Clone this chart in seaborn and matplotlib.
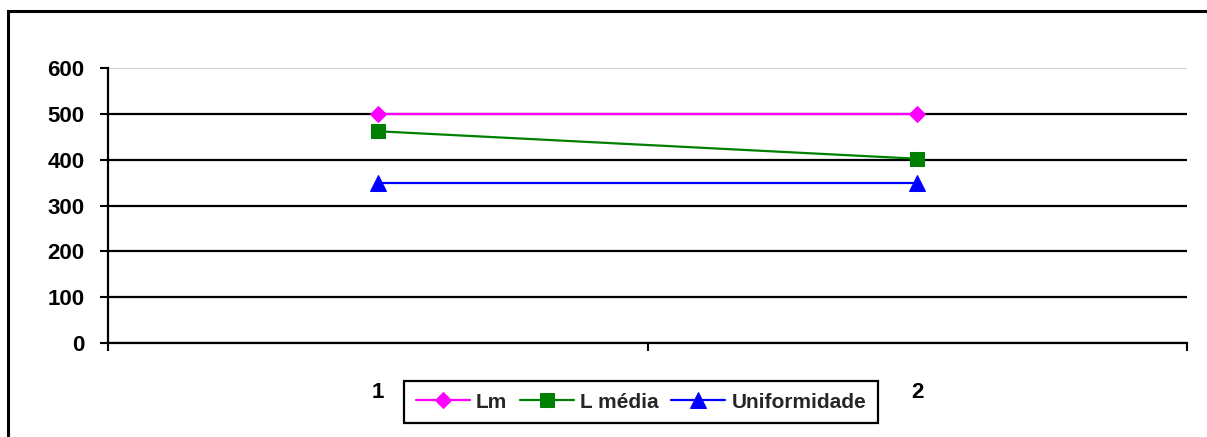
import matplotlib
matplotlib.use("Agg")
import matplotlib.pyplot as plt
import seaborn as sns
import pandas as pd
from matplotlib.patches import Rectangle

# Values per measurement point
categories = [1, 2]
category_labels = ["1", "2"]
lm = [500, 500]
l_media = [462, 402]
uniformidade = [350, 350]
y_ticks = [0, 100, 200, 300, 400, 500, 600]

sns.set_theme(style="white")
plt.rcParams["font.family"] = ["Liberation Sans", "DejaVu Sans"]
plt.rcParams["font.weight"] = "bold"

W, H = 1207, 437
fig = plt.figure(figsize=(W / 100, H / 100), dpi=100)
fig.patch.set_facecolor("white")

# Chart-area frame (runs off the right and bottom edges)
fig.add_artist(Rectangle((8 / W, -0.1), 1.2, (H - 11) / H + 0.1,
                         transform=fig.transFigure, fill=False,
                         edgecolor="black", linewidth=2.2, zorder=0))

ax = fig.add_axes([108 / W, 1 - 343 / H, (1187 - 108) / W, (343 - 68) / H])
ax.set_facecolor("white")

series = [
    ("Lm", lm, "#FF00FF", "D", 8.5),
    ("L média", l_media, "#008000", "s", 10.5),
    ("Uniformidade", uniformidade, "#0000FF", "^", 11.5),
]
for name, vals, color, marker, ms in series:
    df = pd.DataFrame({"x": categories, "y": vals})
    sns.lineplot(data=df, x="x", y="y", ax=ax, color=color, marker=marker,
                 markersize=ms, markeredgecolor=color, linewidth=1.6,
                 label=name, zorder=3)

ax.set_xlim(0.5, 2.5)
ax.set_ylim(0, 600)
ax.set_xlabel("")
ax.set_ylabel("")

# Horizontal gridlines; the top one is light grey
ax.set_yticks(y_ticks)
ax.yaxis.grid(True, color="black", linewidth=1.6, zorder=1)
ax.set_axisbelow(True)
gl = ax.get_ygridlines()
gl[-1].set_color("#c8c8c8")
gl[-1].set_linewidth(1.2)
ax.tick_params(axis="y", which="major", direction="out", length=6, width=1.5,
               color="black", pad=11, left=True, labelcolor="black",
               labelsize=16)

# Category axis: ticks between categories, labels under each category
ax.set_xticks([0.5, 1.5, 2.5])
ax.set_xticklabels([])
ax.tick_params(axis="x", which="major", direction="out", length=6, width=1.5,
               color="black", bottom=True)
ax.set_xticks(categories, minor=True)
ax.set_xticklabels(category_labels, minor=True)
ax.tick_params(axis="x", which="minor", length=0, pad=28, labelcolor="black",
               labelsize=16)
ax.set_yticklabels([str(v) for v in y_ticks])
for lbl in ax.get_yticklabels() + ax.get_xticklabels(minor=True):
    lbl.set_fontweight("bold")

for side in ["top", "right"]:
    ax.spines[side].set_visible(False)
for side in ["left", "bottom"]:
    ax.spines[side].set_color("black")
    ax.spines[side].set_linewidth(1.6)

leg = ax.legend(loc="center", bbox_to_anchor=(641 / W, 1 - 402 / H),
                bbox_transform=fig.transFigure, ncol=3, frameon=True,
                fancybox=False, shadow=False, prop={"size": 15, "weight": "bold"},
                handlelength=2.6, handletextpad=0.3, columnspacing=0.6,
                borderpad=0.55, borderaxespad=0, edgecolor="black", framealpha=1)
leg.get_frame().set_linewidth(1.6)

fig.savefig("out.png", dpi=100, facecolor="white")
